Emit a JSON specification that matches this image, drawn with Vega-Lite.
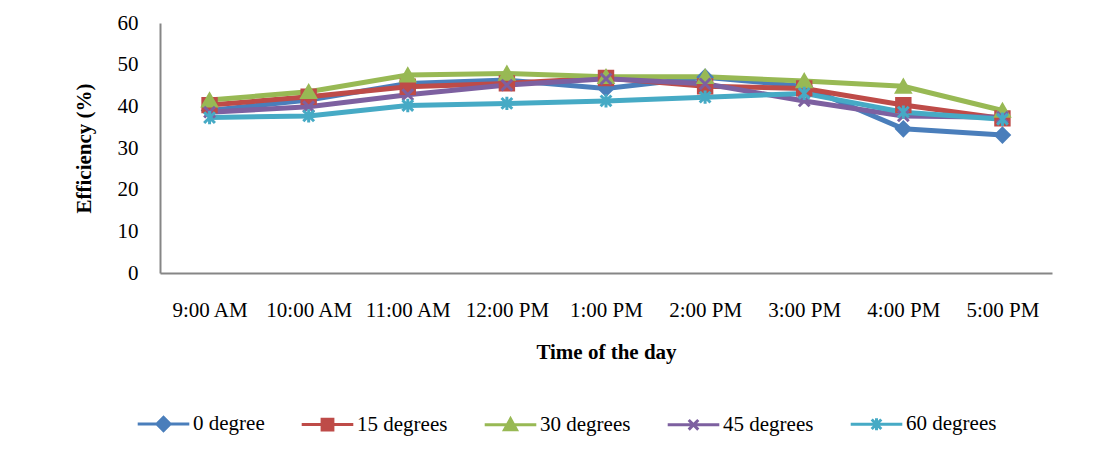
{
  "$schema": "https://vega.github.io/schema/vega-lite/v6.json",
  "autosize": {"type": "none"},
  "width": 892,
  "height": 250,
  "padding": {"left": 160, "top": 23, "right": 50, "bottom": 177},
  "background": "white",
  "data": {
    "values": [
      {"time": "9:00 AM", "series": "0 degree", "value": 39.0},
      {"time": "10:00 AM", "series": "0 degree", "value": 41.5},
      {"time": "11:00 AM", "series": "0 degree", "value": 45.5},
      {"time": "12:00 PM", "series": "0 degree", "value": 46.3},
      {"time": "1:00 PM", "series": "0 degree", "value": 44.3},
      {"time": "2:00 PM", "series": "0 degree", "value": 47.0},
      {"time": "3:00 PM", "series": "0 degree", "value": 44.8},
      {"time": "4:00 PM", "series": "0 degree", "value": 34.6},
      {"time": "5:00 PM", "series": "0 degree", "value": 33.1},
      {"time": "9:00 AM", "series": "15 degrees", "value": 40.3},
      {"time": "10:00 AM", "series": "15 degrees", "value": 42.3},
      {"time": "11:00 AM", "series": "15 degrees", "value": 44.7},
      {"time": "12:00 PM", "series": "15 degrees", "value": 45.5},
      {"time": "1:00 PM", "series": "15 degrees", "value": 46.8},
      {"time": "2:00 PM", "series": "15 degrees", "value": 44.8},
      {"time": "3:00 PM", "series": "15 degrees", "value": 44.3},
      {"time": "4:00 PM", "series": "15 degrees", "value": 40.3},
      {"time": "5:00 PM", "series": "15 degrees", "value": 37.1},
      {"time": "9:00 AM", "series": "30 degrees", "value": 41.5},
      {"time": "10:00 AM", "series": "30 degrees", "value": 43.5},
      {"time": "11:00 AM", "series": "30 degrees", "value": 47.5},
      {"time": "12:00 PM", "series": "30 degrees", "value": 47.9},
      {"time": "1:00 PM", "series": "30 degrees", "value": 47.1},
      {"time": "2:00 PM", "series": "30 degrees", "value": 47.1},
      {"time": "3:00 PM", "series": "30 degrees", "value": 46.1},
      {"time": "4:00 PM", "series": "30 degrees", "value": 44.8},
      {"time": "5:00 PM", "series": "30 degrees", "value": 39.0},
      {"time": "9:00 AM", "series": "45 degrees", "value": 38.6},
      {"time": "10:00 AM", "series": "45 degrees", "value": 39.9},
      {"time": "11:00 AM", "series": "45 degrees", "value": 42.8},
      {"time": "12:00 PM", "series": "45 degrees", "value": 45.1},
      {"time": "1:00 PM", "series": "45 degrees", "value": 46.6},
      {"time": "2:00 PM", "series": "45 degrees", "value": 45.4},
      {"time": "3:00 PM", "series": "45 degrees", "value": 41.3},
      {"time": "4:00 PM", "series": "45 degrees", "value": 37.7},
      {"time": "5:00 PM", "series": "45 degrees", "value": 37.4},
      {"time": "9:00 AM", "series": "60 degrees", "value": 37.3},
      {"time": "10:00 AM", "series": "60 degrees", "value": 37.7},
      {"time": "11:00 AM", "series": "60 degrees", "value": 40.2},
      {"time": "12:00 PM", "series": "60 degrees", "value": 40.7},
      {"time": "1:00 PM", "series": "60 degrees", "value": 41.3},
      {"time": "2:00 PM", "series": "60 degrees", "value": 42.2},
      {"time": "3:00 PM", "series": "60 degrees", "value": 43.1},
      {"time": "4:00 PM", "series": "60 degrees", "value": 38.6},
      {"time": "5:00 PM", "series": "60 degrees", "value": 36.9}
    ]
  },
  "encoding": {
    "x": {
      "field": "time",
      "type": "ordinal",
      "sort": null,
      "scale": {"type": "point", "padding": 0.5},
      "axis": {
        "title": "Time of the day",
        "labelAngle": 0,
        "ticks": false,
        "labelPadding": 26,
        "titlePadding": 21,
        "domainColor": "#868686",
        "domainWidth": 2
      }
    },
    "y": {
      "field": "value",
      "type": "quantitative",
      "scale": {"domain": [0, 60], "nice": false},
      "axis": {
        "title": "Efficiency (%)",
        "values": [0, 10, 20, 30, 40, 50, 60],
        "ticks": false,
        "grid": false,
        "labelPadding": 22,
        "titlePadding": 23,
        "domainColor": "#868686",
        "domainWidth": 2
      }
    }
  },
  "layer": [
    {
      "mark": {"type": "line", "strokeWidth": 5},
      "encoding": {
        "color": {
          "field": "series",
          "type": "nominal",
          "scale": {
            "domain": ["0 degree", "15 degrees", "30 degrees", "45 degrees", "60 degrees"],
            "range": ["#4A7EBB", "#BE4B48", "#98B954", "#7D60A0", "#46AAC5"]
          },
          "legend": null
        }
      }
    },
    {
      "mark": {"type": "point", "filled": true, "opacity": 1, "size": 180, "strokeWidth": 3},
      "encoding": {
        "fill": {
          "field": "series",
          "type": "nominal",
          "scale": {
            "domain": ["0 degree", "15 degrees", "30 degrees", "45 degrees", "60 degrees"],
            "range": ["#4A7EBB", "#BE4B48", "#98B954", "#7D60A0", "#46AAC5"]
          },
          "legend": null
        },
        "stroke": {
          "field": "series",
          "type": "nominal",
          "scale": {
            "domain": ["0 degree", "15 degrees", "30 degrees", "45 degrees", "60 degrees"],
            "range": ["#4A7EBB", "#BE4B48", "#98B954", "#7D60A0", "#46AAC5"]
          },
          "legend": null
        },
        "shape": {
          "field": "series",
          "type": "nominal",
          "scale": {
            "domain": ["0 degree", "15 degrees", "30 degrees", "45 degrees", "60 degrees"],
            "range": [
              "diamond",
              "square",
              "triangle-up",
              "M-0.8,-0.8L0.8,0.8M-0.8,0.8L0.8,-0.8",
              "M-0.8,-0.8L0.8,0.8M-0.8,0.8L0.8,-0.8M0,-1L0,1"
            ]
          },
          "legend": null
        }
      }
    },
    {
      "transform": [{"filter": "false"}],
      "mark": {"type": "point", "filled": true, "opacity": 1, "strokeWidth": 3},
      "encoding": {
        "fill": {
          "field": "series",
          "type": "nominal",
          "scale": {
            "domain": ["0 degree", "15 degrees", "30 degrees", "45 degrees", "60 degrees"],
            "range": ["#4A7EBB", "#BE4B48", "#98B954", "#7D60A0", "#46AAC5"]
          },
          "legend": {
            "orient": "none",
            "direction": "horizontal",
            "legendX": -7,
            "legendY": 390,
            "title": null,
            "padding": 0,
            "symbolSize": 144,
            "symbolStrokeWidth": 3,
            "symbolOpacity": 1,
            "labelFont": "Liberation Serif",
            "labelFontSize": 21,
            "labelColor": "#000000",
            "labelOffset": 19,
            "columnPadding": 30,
            "labelLimit": 200
          }
        },
        "stroke": {
          "field": "series",
          "type": "nominal",
          "scale": {
            "domain": ["0 degree", "15 degrees", "30 degrees", "45 degrees", "60 degrees"],
            "range": ["#4A7EBB", "#BE4B48", "#98B954", "#7D60A0", "#46AAC5"]
          },
          "legend": {
            "orient": "none",
            "direction": "horizontal",
            "legendX": -7,
            "legendY": 390,
            "title": null,
            "padding": 0,
            "symbolSize": 144,
            "symbolStrokeWidth": 3,
            "symbolOpacity": 1,
            "labelFont": "Liberation Serif",
            "labelFontSize": 21,
            "labelColor": "#000000",
            "labelOffset": 19,
            "columnPadding": 30,
            "labelLimit": 200
          }
        },
        "shape": {
          "field": "series",
          "type": "nominal",
          "scale": {
            "domain": ["0 degree", "15 degrees", "30 degrees", "45 degrees", "60 degrees"],
            "range": [
              "M-4.3,0H4.3M-1.1,0L0,-1.1L1.1,0L0,1.1Z",
              "M-4.3,0H4.3M-0.9,-0.9H0.9V0.9H-0.9Z",
              "M-4.3,0H4.3M-1,0.8L0,-1L1,0.8Z",
              "M-4.3,0H4.3M-0.8,-0.8L0.8,0.8M-0.8,0.8L0.8,-0.8",
              "M-4.3,0H4.3M-0.8,-0.8L0.8,0.8M-0.8,0.8L0.8,-0.8M0,-1L0,1"
            ]
          },
          "legend": {
            "orient": "none",
            "direction": "horizontal",
            "legendX": -7,
            "legendY": 390,
            "title": null,
            "padding": 0,
            "symbolSize": 144,
            "symbolStrokeWidth": 3,
            "symbolOpacity": 1,
            "labelFont": "Liberation Serif",
            "labelFontSize": 21,
            "labelColor": "#000000",
            "labelOffset": 19,
            "columnPadding": 30,
            "labelLimit": 200
          }
        }
      }
    }
  ],
  "resolve": {
    "scale": {"color": "independent", "fill": "independent", "stroke": "independent", "shape": "independent"}
  },
  "config": {
    "view": {"stroke": null},
    "font": "Liberation Serif",
    "text": {"font": "Liberation Serif"},
    "axis": {
      "labelFont": "Liberation Serif",
      "labelFontSize": 21,
      "labelColor": "#000000",
      "titleFont": "Liberation Serif",
      "titleFontSize": 21,
      "titleFontWeight": "bold",
      "titleColor": "#000000"
    },
    "legend": {
      "labelFont": "Liberation Serif",
      "labelFontSize": 21,
      "labelColor": "#000000"
    }
  }
}
